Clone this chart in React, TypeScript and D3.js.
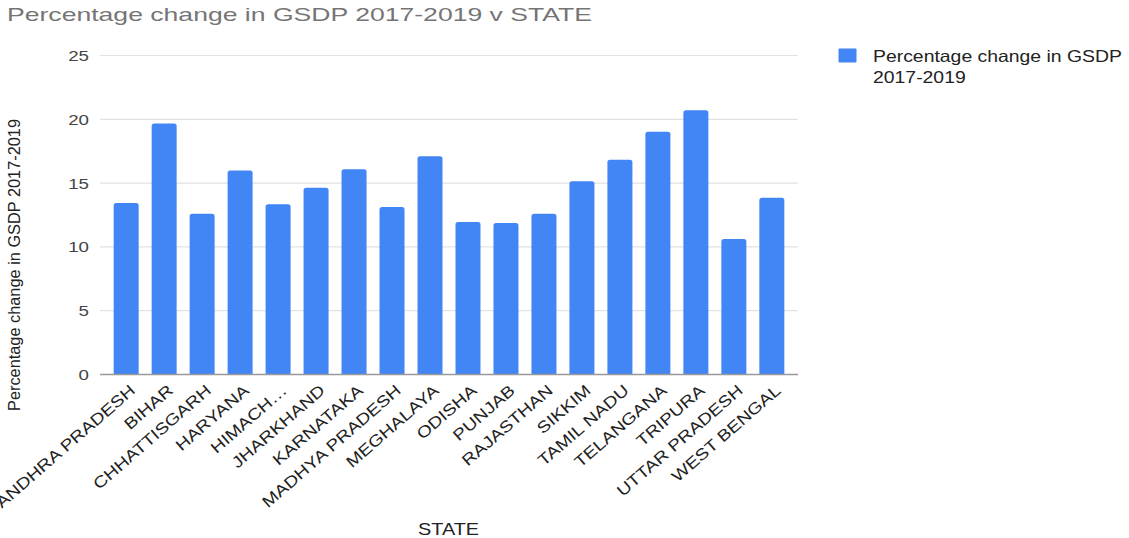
import React from "react";
import * as d3 from "d3";

const states = [
  "ANDHRA PRADESH", "BIHAR", "CHHATTISGARH", "HARYANA", "HIMACH…", "JHARKHAND",
  "KARNATAKA", "MADHYA PRADESH", "MEGHALAYA", "ODISHA", "PUNJAB", "RAJASTHAN",
  "SIKKIM", "TAMIL NADU", "TELANGANA", "TRIPURA", "UTTAR PRADESH", "WEST BENGAL",
];
const gsdpChange = [
  13.45, 19.68, 12.6, 15.99, 13.34, 14.63, 16.09, 13.13, 17.11, 11.96, 11.88, 12.6,
  15.15, 16.83, 19.02, 20.7, 10.62, 13.86,
];
const yTicks = [0, 5, 10, 15, 20, 25];
const seriesName = "Percentage change in GSDP 2017-2019";
const titleText = "Percentage change in GSDP 2017-2019 v STATE";
const xTitle = "STATE";

const W = 1129;
const H = 538;
const FONT = "'Liberation Sans', Arial, Helvetica, sans-serif";

export default function App() {
  const left = 100, right = 798, top = 55.5, bottom = 374.5;
  const x = d3.scaleBand<string>().domain(states).range([left, right]).paddingInner(0.342).paddingOuter(0.36);
  const y = d3.scaleLinear().domain([0, 25]).range([bottom, top]);
  const r = 2.5;
  const barPath = (xs: number, w: number, yt: number, yb: number) => {
    const p = d3.path();
    p.moveTo(xs, yb);
    p.lineTo(xs, yt + r);
    p.quadraticCurveTo(xs, yt, xs + r, yt);
    p.lineTo(xs + w - r, yt);
    p.quadraticCurveTo(xs + w, yt, xs + w, yt + r);
    p.lineTo(xs + w, yb);
    p.closePath();
    return p.toString();
  };
  return (
    <svg width={W} height={H} style={{ position: "absolute", left: 0, top: 0, background: "#fff" }} fontFamily={FONT}>
      <rect x={0} y={0} width={W} height={H} fill="#fff" />
      <text x={7} y={21} fontSize={19} fill="#757575" textLength={585} lengthAdjust="spacingAndGlyphs">{titleText}</text>
      {yTicks.filter((t) => t > 0).map((t) => (
        <line key={"g" + t} x1={left} x2={right} y1={y(t)} y2={y(t)} stroke="#e2e2e2" strokeWidth={1.2} />
      ))}
      {yTicks.map((t) => (
        <text key={"t" + t} transform={`translate(89,${y(t)}) scale(1.25,1)`} textAnchor="end" dy="0.36em" fontSize={15} fill="#444">{t}</text>
      ))}
      {states.map((s, i) => (
        <path key={s} d={barPath(x(s)!, x.bandwidth(), y(gsdpChange[i]), y(0))} fill="#4285F4" />
      ))}
      <line x1={left} x2={right} y1={y(0)} y2={y(0)} stroke="#999" strokeWidth={1.5} />
      {states.map((s) => {
        const cx = x(s)! + x.bandwidth() / 2;
        return (
          <text key={"l" + s} transform={`translate(${cx + 10},392) rotate(-41) scale(1.2,1)`} textAnchor="end" fontSize={16} fill="#222">{s}</text>
        );
      })}
      <text transform="translate(20,265) rotate(-90)" textAnchor="middle" fontSize={16} fill="#222" textLength={292} lengthAdjust="spacingAndGlyphs">{seriesName}</text>
      <text x={448.5} y={535} textAnchor="middle" fontSize={17} fill="#222" textLength={61} lengthAdjust="spacingAndGlyphs">{xTitle}</text>
      <rect x={838.5} y={48.5} width={18} height={14} fill="#4285F4" rx={1} />
      <text transform="translate(873,61.7) scale(1.19,1)" fontSize={16.3} fill="#222">Percentage change in GSDP</text>
      <text transform="translate(873,83.3) scale(1.19,1)" fontSize={16.3} fill="#222">2017-2019</text>
    </svg>
  );
}
